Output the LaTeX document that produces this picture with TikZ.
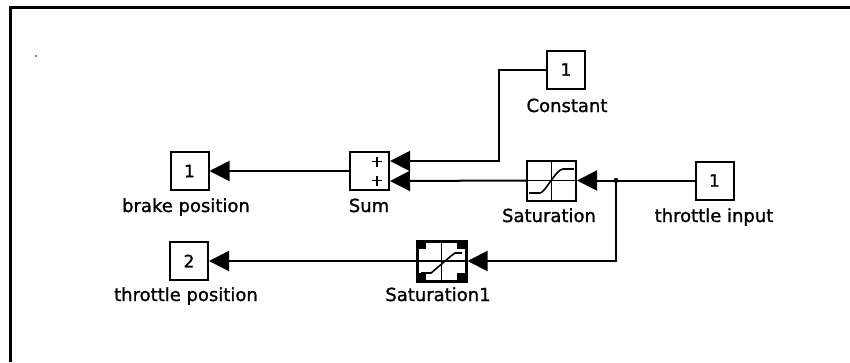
\documentclass[tikz,border=0pt]{standalone}
\usepackage{fontspec}
\setmainfont{DejaVu Sans}
\newfontfamily\lblfont[FakeBold=1.2]{DejaVu Sans}
\usetikzlibrary{arrows.meta,calc}
\begin{document}
\begin{tikzpicture}[x=1pt,y=-1pt,
  blk/.style={draw=black,line width=2pt,fill=white,minimum width=38pt,minimum height=38pt,
    inner sep=0pt,font=\lblfont\fontsize{17}{19}\selectfont},
  satblk/.style={draw=black,line width=2pt,fill=white,minimum width=49pt,minimum height=40pt,inner sep=0pt},
  lbl/.style={anchor=base,inner sep=0pt,font=\lblfont\fontsize{18}{20}\selectfont},
  conn/.style={line width=2pt,-{Triangle[length=20pt,width=20pt]}},
  icon/.style={line width=1.6pt},
  handle/.style={fill=black}
]
\useasboundingbox (0,0) rectangle (850,362);
\fill[white] (0,0) rectangle (850,362);
% frame (top and left edges only)
\draw[line width=3pt] (10,362) -- (10,7) -- (850,7);
\fill (36,56) circle (0.9);

% blocks
\node[blk] (const) at (566,69.5) {1};
\node[blk,minimum width=39pt] (sum) at (369.5,171) {};
\node[blk] (brake) at (189.5,171) {1};
\node[satblk] (sat) at (551.5,180.5) {};
\node[blk] (thr) at (714.5,180.5) {1};
\node[blk] (tpos) at (189,261) {2};
\node[satblk,line width=3pt] (sat1) at (441.5,261) {};

% sum signs
\draw[line width=1.8pt] (372,161.5) -- (382,161.5) (377,156.5) -- (377,166.5);
\draw[line width=1.8pt] (372,180.5) -- (382,180.5) (377,175.5) -- (377,185.5);

% saturation icon
\draw[icon] (sat.north) -- (sat.south) (sat.west) -- (sat.east);
\draw[icon] (529,193) -- (540,193) .. controls (545,193) and (556,169) .. (563,169) -- (574,169);

% saturation1 icon (selected: corner handles)
\draw[icon] (sat1.north) -- (sat1.south) (sat1.west) -- (sat1.east);
\draw[icon] (421,273) -- (431,273) -- (451,256) -- (455,253) -- (462,253);
\fill[handle] (417,241) rectangle (426,249);
\fill[handle] (457,241) rectangle (466,249);
\fill[handle] (417,273) rectangle (426,281);
\fill[handle] (457,273) rectangle (466,281);

% labels
\node[lbl] (lconst) at (567,112) {Constant};
\node[lbl] (lsum) at (369,212) {Sum};
\node[lbl] (lbrake) at (186,212) {brake position};
\node[lbl] (lsat) at (549,222) {Saturation};
\node[lbl] (lthr) at (714,222) {throttle input};
\node[lbl] (ltpos) at (186,301) {throttle position};
\node[lbl] (lsat1) at (438,301) {Saturation1};

% connectors
\coordinate (sumin1) at ($(sum.north east)!0.25!(sum.south east)$);
\coordinate (sumin2) at ($(sum.north east)!0.75!(sum.south east)$);
\coordinate (cbend) at (499,0);
\coordinate (br) at (616,180.5);
\draw[conn] (const.west) -| (cbend |- sumin1) -- (sumin1);
\draw[conn] (sat.west) -- (sumin2);
\draw[conn] (sum.west) -- (brake.east);
\draw[line width=2pt] (thr.west) -- (br);
\draw[conn] (br) -- (sat.east);
\draw[conn] (br) |- (sat1.east);
\fill (br) circle (2.6);
\draw[conn] (sat1.west) -- (tpos.east);
\end{tikzpicture}
\end{document}
